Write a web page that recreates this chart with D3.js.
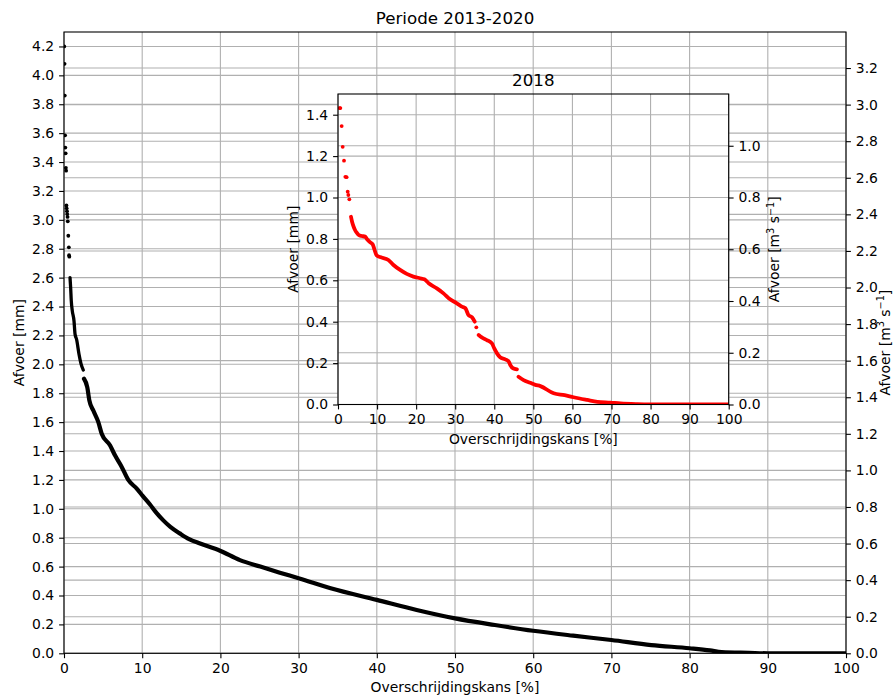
<!DOCTYPE html>
<html>
<head>
<meta charset="utf-8">
<script src="https://cdn.jsdelivr.net/npm/d3@7"></script>
<style>
  html, body { margin: 0; padding: 0; background: #fff; }
  svg { display: block; font-family: "DejaVu Sans", sans-serif; }
</style>
</head>
<body>
<svg id="chart" width="894" height="697"></svg>
<script>
// ---- tick values -------------------------------------------------------
const exceedanceTicks = [0, 10, 20, 30, 40, 50, 60, 70, 80, 90, 100];
const periodMmTicks = [0.0, 0.2, 0.4, 0.6, 0.8, 1.0, 1.2, 1.4, 1.6, 1.8, 2.0,
                       2.2, 2.4, 2.6, 2.8, 3.0, 3.2, 3.4, 3.6, 3.8, 4.0, 4.2];
const periodFlowTicks = [0.0, 0.2, 0.4, 0.6, 0.8, 1.0, 1.2, 1.4, 1.6, 1.8,
                         2.0, 2.2, 2.4, 2.6, 2.8, 3.0, 3.2];
const yearMmTicks = [0.0, 0.2, 0.4, 0.6, 0.8, 1.0, 1.2, 1.4];
const yearFlowTicks = [0.0, 0.2, 0.4, 0.6, 0.8, 1.0];

// ---- duration curve 2013-2020: [exceedance %, discharge mm] ------------
// isolated highest days
const periodPeaks = [
  [0.03, 4.20], [0.07, 4.08], [0.10, 3.86], [0.14, 3.585], [0.17, 3.50],
  [0.21, 3.46], [0.24, 3.36], [0.27, 3.34], [0.31, 3.10], [0.34, 3.08],
  [0.38, 3.06], [0.41, 3.04], [0.45, 3.02], [0.48, 2.99], [0.55, 2.89],
  [0.62, 2.81], [0.65, 2.755], [0.68, 2.745]
];
// steep upper limb
const periodUpper = [
  [0.77, 2.60], [0.85, 2.53], [0.93, 2.44], [1.06, 2.37], [1.28, 2.30],
  [1.41, 2.21], [1.62, 2.17], [1.92, 2.07], [2.17, 2.005], [2.47, 1.96]
];
// dense main body
const periodCurve = [
  [2.56, 1.90], [2.98, 1.84], [3.24, 1.75], [3.75, 1.68], [4.39, 1.60],
  [4.82, 1.52], [5.88, 1.44], [6.52, 1.37], [7.38, 1.29], [8.22, 1.20],
  [9.30, 1.14], [10.06, 1.09], [11.0, 1.03], [11.85, 0.97], [12.7, 0.92],
  [13.6, 0.875], [14.8, 0.83], [16.0, 0.79], [17.4, 0.76], [19.95, 0.71],
  [22.5, 0.645], [25.1, 0.60], [27.6, 0.558], [30.1, 0.518], [34.1, 0.45],
  [40.0, 0.37], [45.1, 0.30], [50.0, 0.242], [55.1, 0.196], [60.0, 0.156],
  [65.1, 0.122], [70.0, 0.092], [75.1, 0.057], [80.0, 0.035], [82.6, 0.020],
  [84.1, 0.008], [87.6, 0.003], [90.0, 0.0], [100.0, 0.0]
];

// ---- duration curve 2018: [exceedance %, discharge mm] -----------------
const yearPeaks = [
  [0.40, 1.432], [0.60, 1.432], [0.94, 1.345], [1.20, 1.245], [1.54, 1.178],
  [1.88, 1.100], [2.20, 1.098], [2.48, 1.028], [2.65, 1.012], [2.90, 0.991],
  [35.4, 0.373]
];
const yearCurveA = [
  [3.33, 0.907], [3.60, 0.883], [3.90, 0.864], [4.36, 0.843], [4.79, 0.830],
  [5.30, 0.819], [6.07, 0.814], [6.92, 0.811], [7.50, 0.797], [8.20, 0.784],
  [8.90, 0.773], [9.30, 0.750], [9.90, 0.720], [10.8, 0.712], [12.9, 0.698],
  [14.2, 0.674], [15.9, 0.650], [17.6, 0.631], [19.3, 0.618], [21.0, 0.610],
  [22.1, 0.605], [23.2, 0.586], [25.3, 0.561], [27.0, 0.537], [28.7, 0.508],
  [30.4, 0.489], [31.7, 0.473], [32.6, 0.465], [33.4, 0.432], [34.3, 0.421],
  [35.0, 0.400]
];
const yearCurveB = [
  [36.0, 0.336], [36.8, 0.324], [38.1, 0.311], [39.4, 0.295], [40.0, 0.271],
  [40.7, 0.247], [41.5, 0.228], [42.8, 0.218], [43.7, 0.207], [44.1, 0.191],
  [44.8, 0.175], [45.8, 0.170]
];
const yearCurveC = [
  [46.2, 0.134], [47.5, 0.118], [49.2, 0.105], [50.5, 0.095], [51.8, 0.089],
  [55.2, 0.054], [58.0, 0.045], [60.3, 0.035], [63.8, 0.022], [66.4, 0.013],
  [69.7, 0.009], [72.3, 0.005], [76.6, 0.002], [80.0, 0.001], [100.0, 0.0]
];

// ---- drawing -------------------------------------------------------------
const svg = d3.select("#chart");
const defs = svg.append("defs");
const FONT = 13.9;
const TICK = 4.9;

function flowLabel(g, x, y) {
  const t = g.append("text")
    .attr("transform", `translate(${x},${y}) rotate(-90)`)
    .attr("text-anchor", "middle")
    .attr("font-size", FONT)
    .attr("fill", "#000");
  t.append("tspan").text("Afvoer [m");
  t.append("tspan").attr("font-size", 9.7).attr("dy", -5.5).text("3");
  t.append("tspan").attr("font-size", FONT).attr("dy", 5.5).text(" s");
  t.append("tspan").attr("font-size", 9.7).attr("dy", -5.5).text("\u22121");
  t.append("tspan").attr("font-size", FONT).attr("dy", 5.5).text("]");
}

function panel(o) {
  const g = svg.append("g");
  const x = d3.scaleLinear().domain([0, 100]).range([o.left, o.right]);
  const y = d3.scaleLinear().domain([0, o.mmMax]).range([o.bottom, o.top]);
  const y2 = d3.scaleLinear().domain([0, o.mmMax * o.factor]).range([o.bottom, o.top]);

  g.append("rect")
    .attr("x", o.left).attr("y", o.top)
    .attr("width", o.right - o.left).attr("height", o.bottom - o.top)
    .attr("fill", "#fff");

  // grid from the x axis and both y axes
  const grid = g.append("g").attr("stroke", "#b0b0b0").attr("stroke-width", 1.1);
  grid.selectAll("line.gx").data(exceedanceTicks).join("line")
    .attr("x1", d => x(d)).attr("x2", d => x(d))
    .attr("y1", o.top).attr("y2", o.bottom);
  grid.selectAll("line.gy").data(o.mmTicks).join("line")
    .attr("x1", o.left).attr("x2", o.right)
    .attr("y1", d => y(d)).attr("y2", d => y(d));
  grid.selectAll("line.gy2").data(o.flowTicks).join("line")
    .attr("x1", o.left).attr("x2", o.right)
    .attr("y1", d => y2(d)).attr("y2", d => y2(d));

  // data, clipped to the plot area
  defs.append("clipPath").attr("id", o.id + "-clip")
    .append("rect")
    .attr("x", o.left).attr("y", o.top)
    .attr("width", o.right - o.left).attr("height", o.bottom - o.top);
  const plot = g.append("g").attr("clip-path", `url(#${o.id}-clip)`);
  const line = d3.line().x(d => x(d[0])).y(d => y(d[1])).curve(d3.curveMonotoneX);
  o.runs.forEach(r => {
    plot.append("path")
      .attr("d", line(r.points))
      .attr("fill", "none")
      .attr("stroke", o.color)
      .attr("stroke-width", r.width)
      .attr("stroke-linejoin", "round")
      .attr("stroke-linecap", "round");
  });
  plot.selectAll("circle").data(o.points).join("circle")
    .attr("cx", d => x(d[0])).attr("cy", d => y(d[1]))
    .attr("r", 1.9).attr("fill", o.color);

  // frame
  g.append("rect")
    .attr("x", o.left).attr("y", o.top)
    .attr("width", o.right - o.left).attr("height", o.bottom - o.top)
    .attr("fill", "none").attr("stroke", "#000").attr("stroke-width", 1.1);

  // axes
  const styleAxis = sel => {
    sel.select(".domain").remove();
    sel.selectAll(".tick line").attr("stroke", "#000").attr("stroke-width", 1.1);
    sel.selectAll(".tick text").attr("fill", "#000")
      .attr("font-size", FONT).attr("font-family", "DejaVu Sans");
  };
  g.append("g").attr("transform", `translate(0,${o.bottom})`)
    .call(d3.axisBottom(x).tickValues(exceedanceTicks).tickFormat(d3.format("d"))
      .tickSize(TICK).tickPadding(TICK))
    .call(styleAxis);
  g.append("g").attr("transform", `translate(${o.left},0)`)
    .call(d3.axisLeft(y).tickValues(o.mmTicks).tickFormat(d3.format(".1f"))
      .tickSize(TICK).tickPadding(TICK))
    .call(styleAxis);
  g.append("g").attr("transform", `translate(${o.right},0)`)
    .call(d3.axisRight(y2).tickValues(o.flowTicks).tickFormat(d3.format(".1f"))
      .tickSize(TICK).tickPadding(TICK))
    .call(styleAxis);

  // titles and labels
  const cx = (o.left + o.right) / 2;
  const cy = (o.top + o.bottom) / 2;
  g.append("text").attr("x", cx).attr("y", o.titleY)
    .attr("text-anchor", "middle").attr("font-size", 16.7).attr("fill", "#000")
    .text(o.title);
  g.append("text").attr("x", cx).attr("y", o.xLabelY)
    .attr("text-anchor", "middle").attr("font-size", FONT).attr("fill", "#000")
    .text("Overschrijdingskans [%]");
  g.append("text")
    .attr("transform", `translate(${o.yLabelX},${cy}) rotate(-90)`)
    .attr("text-anchor", "middle").attr("font-size", FONT).attr("fill", "#000")
    .text("Afvoer [mm]");
  flowLabel(g, o.y2LabelX, cy);
}

panel({
  id: "period", left: 64, right: 846, top: 32, bottom: 653.3,
  mmMax: 4.3, factor: 0.79,
  mmTicks: periodMmTicks, flowTicks: periodFlowTicks,
  title: "Periode 2013-2020", titleY: 23.5, xLabelY: 691.5,
  yLabelX: 24, y2LabelX: 889.5,
  color: "#000",
  runs: [{ points: periodUpper, width: 3.3 }, { points: periodCurve, width: 4.2 }],
  points: periodPeaks
});

panel({
  id: "year", left: 338, right: 728.7, top: 94, bottom: 404.5,
  mmMax: 1.5, factor: 0.8,
  mmTicks: yearMmTicks, flowTicks: yearFlowTicks,
  title: "2018", titleY: 85.7, xLabelY: 444,
  yLabelX: 297.5, y2LabelX: 779,
  color: "#ff0000",
  runs: [{ points: yearCurveA, width: 3.8 }, { points: yearCurveB, width: 3.8 },
         { points: yearCurveC, width: 3.8 }],
  points: yearPeaks
});
</script>
</body>
</html>
